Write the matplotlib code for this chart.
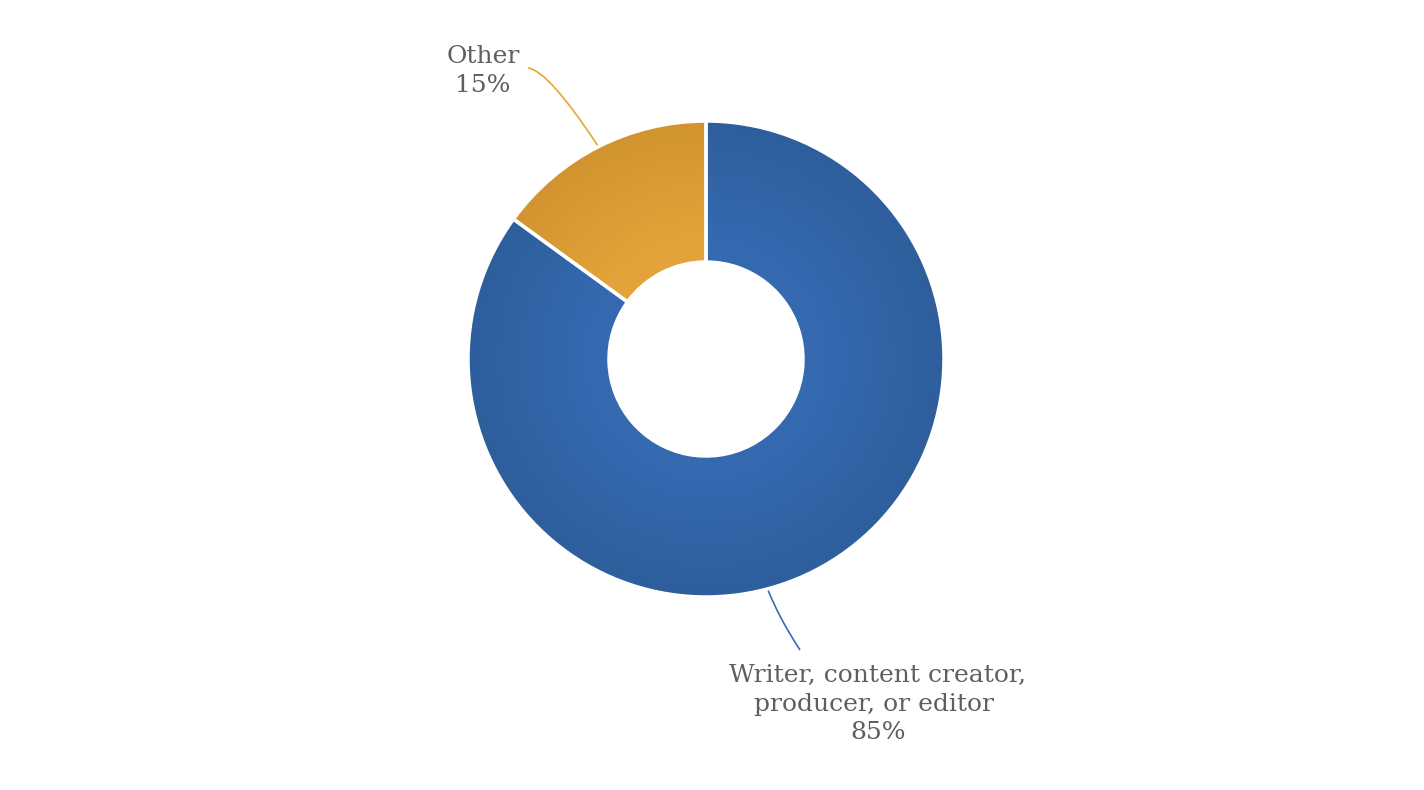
import numpy as np
import matplotlib
matplotlib.use("Agg")
import matplotlib.pyplot as plt
from matplotlib.colors import LinearSegmentedColormap
from matplotlib.path import Path
from matplotlib.patches import PathPatch

labels = ["Writer, content creator,\nproducer, or editor \n85%", "Other\n15%"]
values = [85, 15]
# (light, dark) for the radial shading of each slice
shades = [("#3569B0", "#2E5E9C"), ("#E4A33A", "#D29430")]
leader_colors = ["#3A6BB5", "#E8A535"]

W, H = 1424, 790
fig = plt.figure(figsize=(W / 100, H / 100), dpi=100)
ax = fig.add_axes([0, 0, 1, 1])

cx, cy = 706, H - 359
r_out, r_in = 238, 97

wedges, _ = ax.pie(
    values,
    center=(cx, cy),
    radius=r_out,
    startangle=90,
    counterclock=False,
    wedgeprops=dict(width=r_out - r_in, edgecolor="white", linewidth=2.5),
    frame=True,
)
ax.set_xlim(0, W)
ax.set_ylim(0, H)
ax.set_aspect("equal")
ax.axis("off")

# radial gradient fill, clipped to each wedge
yy, xx = np.mgrid[cy - r_out:cy + r_out:400j, cx - r_out:cx + r_out:400j]
dist = np.hypot(xx - cx, yy - cy) / r_out
for w, (light, dark) in zip(wedges, shades):
    cmap = LinearSegmentedColormap.from_list("g", [light, light, dark])
    im = ax.imshow(dist, cmap=cmap, vmin=0, vmax=1, origin="lower",
                   extent=(cx - r_out, cx + r_out, cy - r_out, cy + r_out),
                   zorder=w.get_zorder() + 0.1, interpolation="bilinear")
    im.set_clip_path(w)
    w.set_facecolor("none")
    w.set_zorder(w.get_zorder() + 0.2)

text_kw = dict(fontsize=18, color="#5F5F5F", family="DejaVu Serif",
               ha="center", va="center", linespacing=1.32)

ax.text(483, H - 71, labels[1], **text_kw)
ax.text(878, H - 704, labels[0], **text_kw)


def leader(p0, ctrl, p1, color):
    # quadratic bezier in pixel coordinates (y measured from top)
    pts = [(x, H - y) for x, y in (p0, ctrl, p1)]
    path = Path(pts, [Path.MOVETO, Path.CURVE3, Path.CURVE3])
    ax.add_patch(PathPatch(path, facecolor="none", edgecolor=color, lw=1.2))


leader((528, 68), (548, 70), (598, 146), leader_colors[1])
leader((768, 590), (779, 618), (800, 650), leader_colors[0])

fig.savefig("out.png", dpi=100)
